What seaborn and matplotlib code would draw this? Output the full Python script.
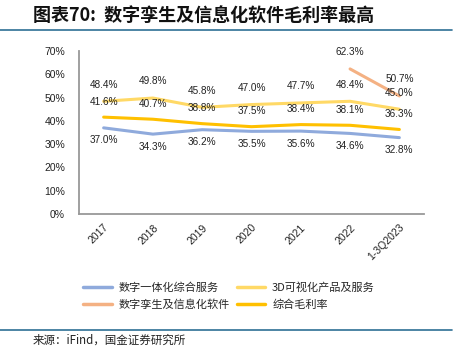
import pandas as pd
import numpy as np
import matplotlib
matplotlib.use("Agg")
import matplotlib.pyplot as plt
import seaborn as sns

# 数据
years = ['2017', '2018', '2019', '2020', '2021', '2022', '1-3Q2023']
yitihua = [37.0, 34.3, 36.2, 35.5, 35.6, 34.6, 32.8]
keshihua = [48.4, 49.8, 45.8, 47.0, 47.7, 48.4, 45.0]
luansheng = [np.nan, np.nan, np.nan, np.nan, np.nan, 62.3, 50.7]
zonghe = [41.6, 40.7, 38.8, 37.5, 38.4, 38.1, 36.3]

series_names = ['数字一体化综合服务', '3D可视化产品及服务', '数字孪生及信息化软件', '综合毛利率']
series_vals = [yitihua, keshihua, luansheng, zonghe]
colors = ['#8FAADC', '#FFD966', '#F4B183', '#FFC000']
label_offset = [-9, 12, 12, 11]   # pontos: negativo = abaixo da linha

sns.set_style('white')
plt.rcParams['font.family'] = ['Liberation Sans', 'Noto Sans CJK SC']
cjk = ['Noto Sans CJK SC', 'Liberation Sans']

df = pd.DataFrame({'年份': years * 4,
                   '系列': [n for n in series_names for _ in years],
                   '毛利率': sum(series_vals, [])})

fig = plt.figure(figsize=(4.58, 3.5), dpi=100)
ax = fig.add_axes([79 / 458, 1 - 214 / 350, (424 - 79) / 458, (214 - 51) / 350])

sns.lineplot(data=df, x='年份', y='毛利率', hue='系列', palette=colors,
             hue_order=series_names, linewidth=2.2, sort=False, ax=ax, legend=False)

# rótulos de dados
for vals, off in zip(series_vals, label_offset):
    for i, v in enumerate(vals):
        if np.isnan(v):
            continue
        ax.annotate(f'{v:.1f}%', (i, v), xytext=(0, off), textcoords='offset points',
                    ha='center', va='center', fontsize=7.2, color='#222222')

ax.set_xlim(-0.5, 6.5)
ax.set_ylim(0, 70)
ax.set_yticks(range(0, 71, 10))
ax.set_yticklabels([f'{t}%' for t in range(0, 71, 10)], fontsize=7.5, color='#222222')
ax.set_xticks(range(len(years)))
ax.set_xticklabels(years, rotation=45, ha='right', rotation_mode='anchor', fontsize=7.5, color='#222222')
ax.set_xlabel('')
ax.set_ylabel('')
ax.tick_params(axis='y', direction='in', length=2.5, width=1, color='#999999', pad=10)
ax.tick_params(axis='x', length=0, pad=6)
for s in ['top', 'right']:
    ax.spines[s].set_visible(False)
for s in ['left', 'bottom']:
    ax.spines[s].set_color('#999999')
    ax.spines[s].set_linewidth(1.3)

# legenda (ordem por linhas, como no original)
handles = [plt.Line2D([], [], color=c, lw=2.5) for c in colors]
order = [0, 2, 1, 3]
fig.legend([handles[i] for i in order], [series_names[i] for i in order],
           loc='center', bbox_to_anchor=(0.5, 1 - 296 / 350),
           ncol=2, frameon=False, prop={'family': cjk, 'size': 8},
           handlelength=2.6, columnspacing=0.6, labelspacing=0.6, handletextpad=0.6)

# título e rodapé
fig.text(33 / 458, 1 - 15 / 350, '图表70:  数字孪生及信息化软件毛利率最高', fontsize=13,
         fontweight='bold', family=cjk, va='center', ha='left', color='#111111')
fig.add_artist(plt.Line2D([0, 452 / 458], [1 - 30 / 350, 1 - 30 / 350], color='#2E6F95', lw=1.2))
fig.add_artist(plt.Line2D([0, 452 / 458], [1 - 330 / 350, 1 - 330 / 350], color='#2E6F95', lw=1.2))
fig.text(33 / 458, 1 - 340 / 350, '来源：iFind，国金证券研究所', fontsize=8.3,
         family=cjk, va='center', ha='left', color='#222222')

fig.savefig('out.png', dpi=100)
